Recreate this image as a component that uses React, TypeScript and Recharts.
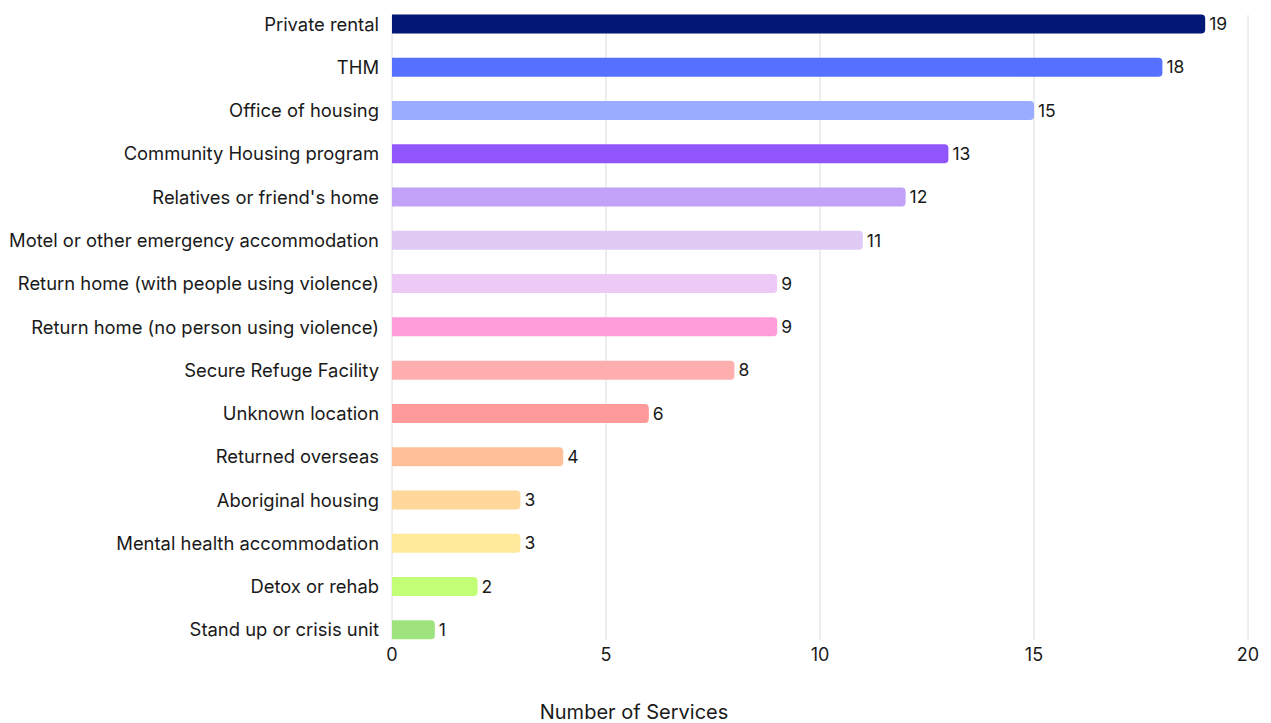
import { Bar, BarChart, CartesianGrid, Cell, LabelList, XAxis, YAxis } from "recharts";

const categories = [
  "Private rental",
  "THM",
  "Office of housing",
  "Community Housing program",
  "Relatives or friend's home",
  "Motel or other emergency accommodation",
  "Return home (with people using violence)",
  "Return home (no person using violence)",
  "Secure Refuge Facility",
  "Unknown location",
  "Returned overseas",
  "Aboriginal housing",
  "Mental health accommodation",
  "Detox or rehab",
  "Stand up or crisis unit",
];

const services = [19, 18, 15, 13, 12, 11, 9, 9, 8, 6, 4, 3, 3, 2, 1];

const barColors = [
  "#031776",
  "#5472FF",
  "#99ACFF",
  "#9155FC",
  "#C2A2F6",
  "#E0CBF5",
  "#EDCAF6",
  "#FF9CDA",
  "#FFAEAE",
  "#FF9A9A",
  "#FFC09A",
  "#FFD79A",
  "#FFE99B",
  "#C3FF76",
  "#9EE37E",
];

const xTicks = [0, 5, 10, 15, 20];

const data = categories.map((name, i) => ({ name, value: services[i] }));

const FONT = "Inter, 'Noto Sans', sans-serif";

export default function App() {
  return (
    <div style={{ fontFamily: FONT }}>
      <BarChart
        width={1263}
        height={715}
        data={data}
        layout="vertical"
        margin={{ top: 7, right: 23, left: 0, bottom: 0 }}
      >
        <CartesianGrid horizontal={false} stroke="#dcdcdc" />
        <XAxis
          type="number"
          domain={[0, 20]}
          ticks={xTicks}
          axisLine={false}
          tickLine={false}
          height={83}
          tick={{ fill: "#1a1a1a", fontSize: 18, fontFamily: FONT }}
          label={(props: any) => {
            const vb = props.viewBox;
            return (
              <text
                x={vb.x + vb.width / 2 - 186}
                y={vb.y + vb.height - 4}
                textAnchor="middle"
                fill="#1a1a1a"
                fontSize={20}
                fontFamily={FONT}
              >
                Number of Services
              </text>
            );
          }}
        />
        <YAxis
          type="category"
          dataKey="name"
          width={384}
          axisLine={false}
          tickLine={false}
          tickMargin={7}
          interval={0}
          padding={{ top: -12.6, bottom: -11.6 }}
          tick={{ fill: "#1a1a1a", fontSize: 18.4, fontFamily: FONT }}
        />
        <Bar dataKey="value" barSize={19} radius={[0, 4, 4, 0]} isAnimationActive={false}>
          {data.map((d, i) => (
            <Cell key={d.name} fill={barColors[i]} />
          ))}
          <LabelList
            dataKey="value"
            position="right"
            offset={4}
            fill="#1a1a1a"
            fontSize={17.5}
            fontFamily={FONT}
          />
        </Bar>
      </BarChart>
    </div>
  );
}
